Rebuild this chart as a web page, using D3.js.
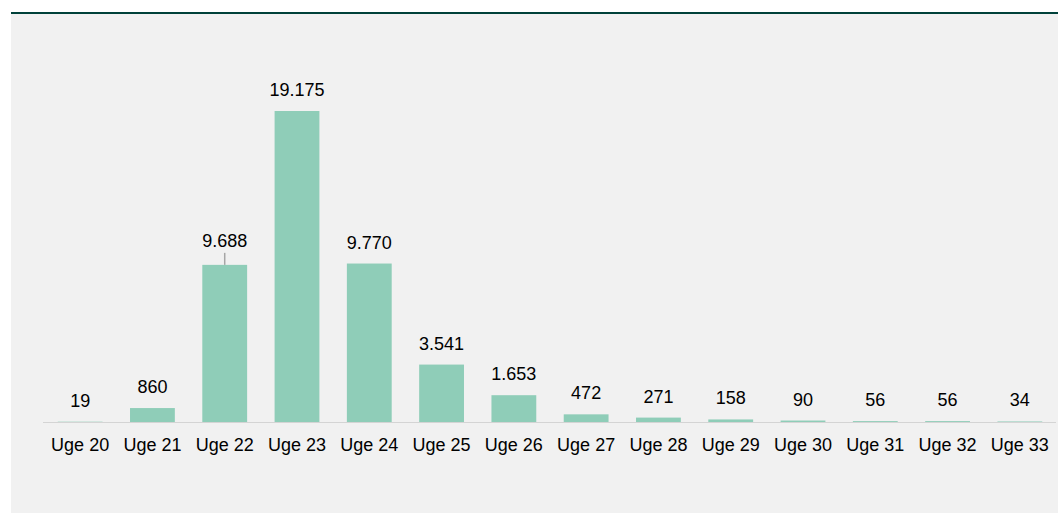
<!DOCTYPE html>
<html>
<head>
<meta charset="utf-8">
<script src="https://cdn.jsdelivr.net/npm/d3@7"></script>
<style>
  body { margin: 0; background: #ffffff; }
  svg { display: block; font-family: "Liberation Sans", Arial, sans-serif; }
</style>
</head>
<body>
<svg id="chart" width="1058" height="513"></svg>
<script>
const weeks = ["Uge 20", "Uge 21", "Uge 22", "Uge 23", "Uge 24", "Uge 25", "Uge 26",
               "Uge 27", "Uge 28", "Uge 29", "Uge 30", "Uge 31", "Uge 32", "Uge 33"];
const counts = [19, 860, 9688, 19175, 9770, 3541, 1653, 472, 271, 158, 90, 56, 56, 34];

const svg = d3.select('#chart');
const width = 1058;
const height = 513;
const baseline = 422;
const fmt = d3.formatLocale({ decimal: ",", thousands: ".", grouping: [3], currency: ["", ""] }).format(",d");

// panel background + top rule
svg.append('rect')
    .attr('x', 11).attr('y', 12)
    .attr('width', width - 11).attr('height', height - 12)
    .attr('fill', '#f1f1f1');
svg.append('rect')
    .attr('x', 11).attr('y', 12)
    .attr('width', width - 11).attr('height', 2)
    .attr('fill', '#00413a');

const xScale = d3.scaleBand()
    .domain(weeks)
    .range([44, 1056])
    .paddingInner(0.38)
    .paddingOuter(0.19);

const yScale = d3.scaleLinear()
    .domain([0, 19175])
    .range([baseline, 111]);

const data = weeks.map((w, i) => ({ week: w, value: counts[i] }));

svg.selectAll('rect.bar')
    .data(data)
    .enter()
    .append('rect')
    .attr('class', 'bar')
    .attr('x', d => xScale(d.week))
    .attr('y', d => yScale(d.value))
    .attr('width', xScale.bandwidth())
    .attr('height', d => baseline - yScale(d.value))
    .attr('fill', '#8fcdb8');

// x axis line
svg.append('line')
    .attr('x1', 43).attr('x2', 1056)
    .attr('y1', baseline + 0.5).attr('y2', baseline + 0.5)
    .attr('stroke', '#d4d4d4')
    .attr('stroke-width', 1);

// category labels
svg.selectAll('text.cat')
    .data(data)
    .enter()
    .append('text')
    .attr('class', 'cat')
    .attr('x', d => xScale(d.week) + xScale.bandwidth() / 2)
    .attr('y', 451)
    .attr('text-anchor', 'middle')
    .attr('font-size', '18px')
    .attr('fill', '#000')
    .text(d => d.week);

// value labels (Uge 22 label is lifted with a leader line)
const lift = d => d.week === "Uge 22" ? 3 : 0;

svg.selectAll('line.leader')
    .data(data.filter(d => lift(d) > 0))
    .enter()
    .append('line')
    .attr('class', 'leader')
    .attr('x1', d => xScale(d.week) + xScale.bandwidth() / 2)
    .attr('x2', d => xScale(d.week) + xScale.bandwidth() / 2)
    .attr('y1', d => yScale(d.value) - 12)
    .attr('y2', d => yScale(d.value))
    .attr('stroke', '#a6a6a6')
    .attr('stroke-width', 1.5);

svg.selectAll('text.val')
    .data(data)
    .enter()
    .append('text')
    .attr('class', 'val')
    .attr('x', d => xScale(d.week) + xScale.bandwidth() / 2)
    .attr('y', d => yScale(d.value) - 15 - lift(d))
    .attr('text-anchor', 'middle')
    .attr('font-size', '18px')
    .attr('fill', '#000')
    .text(d => fmt(d.value));
</script>
</body>
</html>
